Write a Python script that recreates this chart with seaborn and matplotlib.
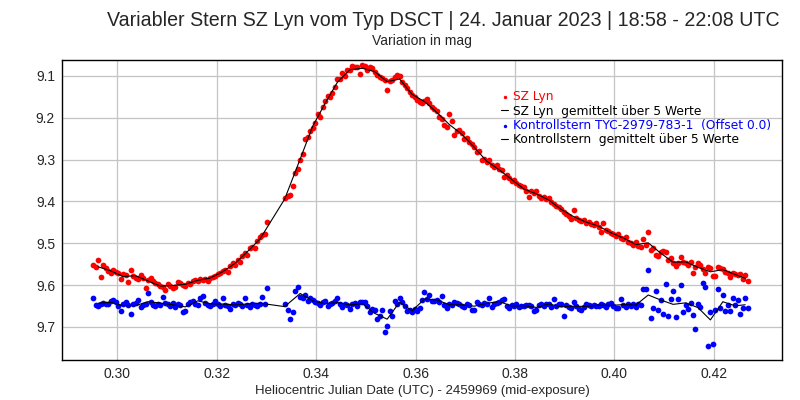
import numpy as np
import pandas as pd
import seaborn as sns
import matplotlib.pyplot as plt

# HJD - 2459969 (mid-exposure)
hjd = [
    0.2952, 0.2957, 0.2962, 0.2967, 0.2972, 0.2977, 0.2982, 0.2987, 0.2992, 0.2997,
    0.3002, 0.3007, 0.3012, 0.3017, 0.3022, 0.3027, 0.3032, 0.3037, 0.3042, 0.3047,
    0.3052, 0.3057, 0.3062, 0.3067, 0.3072, 0.3077, 0.3082, 0.3087, 0.3092, 0.3097,
    0.3102, 0.3107, 0.3112, 0.3117, 0.3122, 0.3127, 0.3132, 0.3137, 0.3142, 0.3147,
    0.3152, 0.3157, 0.3162, 0.3167, 0.3172, 0.3177, 0.3182, 0.3187, 0.3192, 0.3197,
    0.3202, 0.3207, 0.3212, 0.3217, 0.3222, 0.3227, 0.3232, 0.3237, 0.3242, 0.3247,
    0.3252, 0.3257, 0.3262, 0.3267, 0.3272, 0.3277, 0.3282, 0.3287, 0.3292, 0.3297,
    0.3302,
    0.3338, 0.3343, 0.3348, 0.3353, 0.3358, 0.3363, 0.3368, 0.3373, 0.3378, 0.3383,
    0.3388, 0.3393, 0.3398, 0.3403, 0.3408, 0.3413, 0.3418, 0.3423, 0.3428, 0.3433,
    0.3438, 0.3443, 0.3448, 0.3453, 0.3458, 0.3463, 0.3468, 0.3473, 0.3478, 0.3483,
    0.3488, 0.3493, 0.3498, 0.3503, 0.3508, 0.3513, 0.3518, 0.3523, 0.3528, 0.3533,
    0.3538, 0.3543, 0.3548, 0.3553, 0.3558, 0.3563, 0.3568, 0.3573, 0.3578, 0.3583,
    0.3588, 0.3593, 0.3598, 0.3603, 0.3608, 0.3613, 0.3618, 0.3623, 0.3628, 0.3633,
    0.3638, 0.3643, 0.3648, 0.3653, 0.3658, 0.3663, 0.3668, 0.3673, 0.3678, 0.3683,
    0.3688, 0.3693, 0.3698, 0.3703, 0.3708, 0.3713, 0.3718, 0.3723, 0.3728, 0.3733,
    0.3738, 0.3743, 0.3748, 0.3753, 0.3758, 0.3763, 0.3768, 0.3773, 0.3778, 0.3783,
    0.3788, 0.3793, 0.3798, 0.3803, 0.3808, 0.3813, 0.3818, 0.3823, 0.3828, 0.3833,
    0.3838, 0.3843, 0.3848, 0.3853, 0.3858, 0.3863, 0.3868, 0.3873, 0.3878, 0.3883,
    0.3888, 0.3893, 0.3898, 0.3903, 0.3908, 0.3913, 0.3918, 0.3923, 0.3928, 0.3933,
    0.3938, 0.3943, 0.3948, 0.3953, 0.3958, 0.3963, 0.3968, 0.3973, 0.3978, 0.3983,
    0.3988, 0.3993, 0.3998, 0.4003, 0.4008, 0.4013, 0.4018, 0.4023, 0.4028, 0.4033,
    0.4038, 0.4043, 0.4048, 0.4053, 0.4058,
    0.4063, 0.4068, 0.4073, 0.4078, 0.4083, 0.4088, 0.4093, 0.4098, 0.4103, 0.4108,
    0.4113, 0.4118, 0.4123, 0.4128, 0.4133, 0.4138, 0.4143, 0.4148, 0.4153, 0.4158,
    0.4163, 0.4168, 0.4173, 0.4178, 0.4183, 0.4188, 0.4193, 0.4198, 0.4203, 0.4208,
    0.4213, 0.4218, 0.4223, 0.4228, 0.4233, 0.4238, 0.4243, 0.4248, 0.4253, 0.4258,
    0.4263, 0.4268,
]

# SZ Lyn (mag)
mag_sz = [
    9.553, 9.556, 9.540, 9.581, 9.552, 9.560, 9.566, 9.572, 9.563, 9.569,
    9.571, 9.585, 9.574, 9.576, 9.592, 9.565, 9.578, 9.582, 9.586, 9.576,
    9.583, 9.607, 9.588, 9.583, 9.590, 9.595, 9.598, 9.602, 9.605, 9.612,
    9.598, 9.601, 9.607, 9.605, 9.593, 9.596, 9.600, 9.602, 9.594, 9.598,
    9.590, 9.588, 9.591, 9.586, 9.588, 9.585, 9.590, 9.582, 9.581, 9.578,
    9.574, 9.570, 9.566, 9.563, 9.568, 9.555, 9.548, 9.552, 9.540, 9.545,
    9.530, 9.523, 9.527, 9.512, 9.508, 9.511, 9.495, 9.485, 9.481, 9.478,
    9.448,
    9.392, 9.386, 9.384, 9.362, 9.332, 9.322, 9.302, 9.286, 9.252, 9.246,
    9.231, 9.224, 9.212, 9.190, 9.198, 9.174, 9.160, 9.148, 9.150, 9.141,
    9.126, 9.108, 9.107, 9.093, 9.100, 9.086, 9.085, 9.077, 9.078, 9.079,
    9.095, 9.074, 9.076, 9.085, 9.078, 9.082, 9.090, 9.098, 9.102, 9.104,
    9.110, 9.133, 9.112, 9.110, 9.103, 9.098, 9.101, 9.114, 9.121, 9.130,
    9.138, 9.146, 9.150, 9.157, 9.162, 9.164, 9.160, 9.155, 9.165, 9.174,
    9.178, 9.184, 9.198, 9.203, 9.218, 9.222, 9.192, 9.208, 9.241, 9.232,
    9.230, 9.236, 9.251, 9.248, 9.258, 9.262, 9.270, 9.282, 9.280, 9.300,
    9.298, 9.306, 9.302, 9.313, 9.318, 9.314, 9.322, 9.325, 9.342, 9.336,
    9.344, 9.352, 9.348, 9.356, 9.360, 9.363, 9.366, 9.374, 9.389, 9.376,
    9.380, 9.376, 9.386, 9.392, 9.389, 9.395, 9.393, 9.401, 9.405, 9.410,
    9.413, 9.417, 9.426, 9.430, 9.436, 9.442, 9.421, 9.439, 9.444, 9.447,
    9.445, 9.451, 9.449, 9.455, 9.457, 9.452, 9.461, 9.473, 9.452, 9.468,
    9.470, 9.476, 9.479, 9.482, 9.478, 9.487, 9.490, 9.486, 9.496, 9.500,
    9.503, 9.498, 9.506, 9.509, 9.490,
    9.505, 9.473, 9.515, 9.512, 9.528, 9.530, 9.520, 9.518, 9.522, 9.540,
    9.535, 9.548, 9.555, 9.548, 9.532, 9.545, 9.548, 9.552, 9.545, 9.570,
    9.556, 9.548, 9.552, 9.562, 9.570, 9.556, 9.558, 9.578, 9.579, 9.557,
    9.558, 9.562, 9.568, 9.570, 9.580, 9.572, 9.574, 9.575, 9.573, 9.585,
    9.576, 9.590,
]

# Kontrollstern TYC-2979-783-1 (mag, Offset 0.0)
mag_ks = [
    9.631, 9.648, 9.650, 9.645, 9.642, 9.646, 9.644, 9.638, 9.636, 9.641,
    9.650, 9.662, 9.646, 9.640, 9.648, 9.669, 9.645, 9.643, 9.636, 9.652,
    9.648, 9.644, 9.619, 9.640, 9.647, 9.650, 9.645, 9.648, 9.629, 9.643,
    9.646, 9.650, 9.642, 9.652, 9.645, 9.648, 9.665, 9.662, 9.644, 9.641,
    9.637, 9.645, 9.648, 9.632, 9.626, 9.642, 9.647, 9.650, 9.645, 9.639,
    9.646, 9.651, 9.632, 9.647, 9.650, 9.656, 9.645, 9.648, 9.642, 9.646,
    9.650, 9.630, 9.648, 9.652, 9.645, 9.648, 9.650, 9.644, 9.628, 9.646,
    9.607,
    9.645, 9.660, 9.681, 9.664, 9.614, 9.605, 9.628, 9.630, 9.623, 9.637,
    9.631, 9.636, 9.641, 9.643, 9.648, 9.641, 9.638, 9.650, 9.645, 9.642,
    9.639, 9.630, 9.646, 9.652, 9.644, 9.648, 9.658, 9.645, 9.642, 9.650,
    9.640, 9.640, 9.641, 9.650, 9.665, 9.657, 9.660, 9.681, 9.675, 9.660,
    9.712, 9.698, 9.662, 9.675, 9.637, 9.645, 9.631, 9.640, 9.650, 9.663,
    9.660, 9.665, 9.658, 9.662, 9.655, 9.636, 9.617, 9.634, 9.624, 9.638,
    9.638, 9.635, 9.641, 9.625, 9.647, 9.655, 9.645, 9.648, 9.640, 9.642,
    9.646, 9.650, 9.652, 9.645, 9.648, 9.659, 9.660, 9.640, 9.645, 9.648,
    9.642, 9.646, 9.630, 9.652, 9.645, 9.642, 9.640, 9.636, 9.633, 9.650,
    9.655, 9.648, 9.650, 9.646, 9.652, 9.649, 9.650, 9.648, 9.647, 9.651,
    9.662, 9.660, 9.648, 9.646, 9.650, 9.644, 9.646, 9.652, 9.633, 9.650,
    9.645, 9.644, 9.673, 9.648, 9.652, 9.654, 9.640, 9.650, 9.656, 9.660,
    9.652, 9.645, 9.648, 9.650, 9.647, 9.651, 9.649, 9.644, 9.648, 9.652,
    9.644, 9.642, 9.650, 9.655, 9.654, 9.633, 9.648, 9.652, 9.646, 9.650,
    9.644, 9.652, 9.645, 9.648, 9.610,
    9.610, 9.564, 9.679, 9.655, 9.615, 9.660, 9.636, 9.669, 9.598, 9.674,
    9.633, 9.614, 9.676, 9.633, 9.600, 9.664, 9.648, 9.658, 9.642, 9.672,
    9.705, 9.644, 9.653, 9.595, 9.604, 9.746, 9.665, 9.741, 9.660, 9.610,
    9.655, 9.624, 9.663, 9.647, 9.663, 9.632, 9.648, 9.636, 9.668, 9.655,
    9.632, 9.654,
]

df = pd.DataFrame({'hjd': hjd, 'sz': mag_sz, 'ks': mag_ks})
# gemittelt über je 5 Werte
avg = df.groupby(np.arange(len(df)) // 5).mean()

sns.set_style('white', {'axes.edgecolor': 'black', 'grid.color': '#c4c4c4'})
plt.rcParams['font.family'] = ['DejaVu Sans']
narrow = ['Liberation Sans', 'DejaVu Sans']

fig = plt.figure(figsize=(8, 4), dpi=100)
ax = fig.add_axes([0.0775, 0.10, 0.90, 0.75])
ax.grid(True, color='#c4c4c4', lw=0.9, zorder=0)

sns.scatterplot(data=df, x='hjd', y='sz', color='#ff0000', s=17, linewidth=0,
                ax=ax, label='SZ Lyn', zorder=3)
sns.lineplot(data=avg, x='hjd', y='sz', color='black', lw=0.8, sort=False,
             estimator=None, ax=ax, label='SZ Lyn  gemittelt über 5 Werte', zorder=4)
sns.scatterplot(data=df, x='hjd', y='ks', color='#0000ff', s=17, linewidth=0,
                ax=ax, label='Kontrollstern TYC-2979-783-1  (Offset 0.0)', zorder=3)
sns.lineplot(data=avg, x='hjd', y='ks', color='black', lw=0.8, sort=False,
             estimator=None, ax=ax, label='Kontrollstern  gemittelt über 5 Werte', zorder=4)

ax.set_xlim(0.2889, 0.4337)
ax.set_ylim(9.779, 9.062)
ax.set_xticks([0.30, 0.32, 0.34, 0.36, 0.38, 0.40, 0.42])
ax.set_yticks([9.1, 9.2, 9.3, 9.4, 9.5, 9.6, 9.7])
ax.set_xticklabels(['0.30', '0.32', '0.34', '0.36', '0.38', '0.40', '0.42'],
                   family=narrow, fontsize=10)
ax.set_yticklabels(['9.1', '9.2', '9.3', '9.4', '9.5', '9.6', '9.7'],
                   family=narrow, fontsize=10)
ax.tick_params(direction='in', length=4, width=0.8, color='black', pad=5)
ax.set_ylabel('')
ax.set_xlabel('Heliocentric Julian Date (UTC) - 2459969 (mid-exposure)',
              family=narrow, fontsize=9.5, labelpad=3)
for sp in ax.spines.values():
    sp.set_linewidth(1.0)

leg = ax.legend(loc='upper left', bbox_to_anchor=(0.603, 0.915), frameon=False,
                handlelength=0.6, handletextpad=0.4, labelspacing=0.1,
                fontsize=8.8, borderaxespad=0, markerscale=0.6)
for txt, col in zip(leg.get_texts(), ['#ff0000', 'black', '#0000ff', 'black']):
    txt.set_color(col)

fig.text(0.975, 0.948, 'Variabler Stern SZ Lyn vom Typ DSCT | 24. Januar 2023 | 18:58 - 22:08 UTC',
         ha='right', va='center', family=narrow, fontsize=14.1)
fig.text(0.5275, 0.897, 'Variation in mag', ha='center', va='center',
         family=narrow, fontsize=10)

fig.savefig('out.png', dpi=100)
